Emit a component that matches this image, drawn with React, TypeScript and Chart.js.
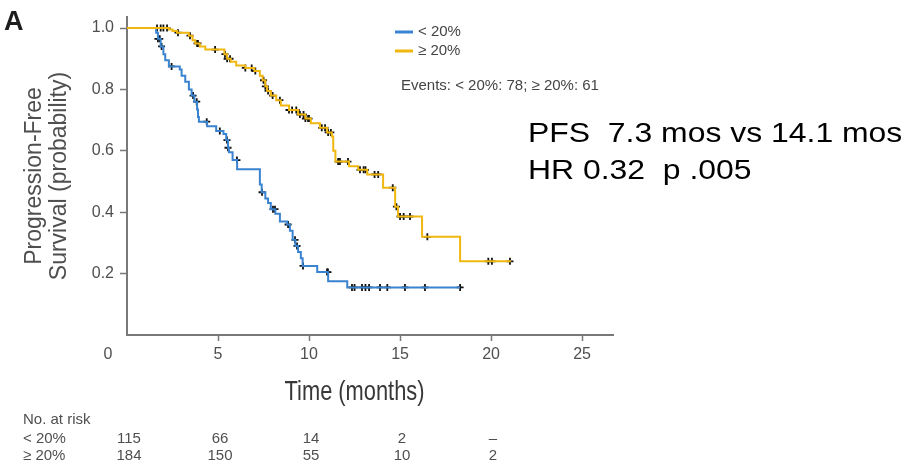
import { useEffect, useRef } from 'react';
import { Chart, registerables } from 'chart.js';

Chart.register(...registerables);

// ---- data ----
const groupLabels = ['< 20%', '≥ 20%'];

// Kaplan–Meier steps: time (months) at which survival drops to the value
const blueTimes = [0, 1.6, 1.7, 1.85, 2.0, 2.1, 2.3, 2.9, 3.0, 3.2, 3.4, 3.55, 3.7, 3.85, 3.9, 3.95, 4.4, 4.9, 5.3, 5.45, 5.55, 5.6, 5.8, 6.05, 7.3, 7.4, 7.6, 7.75, 7.9, 8.15, 8.4, 8.8, 8.95, 9.1, 9.25, 9.4, 9.55, 9.65, 10.45, 11.05, 12.1, 18.3];
const blueSurv = [1.0, 0.985, 0.965, 0.94, 0.915, 0.895, 0.875, 0.865, 0.845, 0.825, 0.8, 0.78, 0.76, 0.735, 0.71, 0.695, 0.68, 0.665, 0.655, 0.635, 0.61, 0.595, 0.57, 0.54, 0.49, 0.465, 0.445, 0.43, 0.41, 0.395, 0.37, 0.36, 0.34, 0.31, 0.29, 0.27, 0.25, 0.225, 0.205, 0.175, 0.155, 0.155];
const blueCensorTimes = [1.7, 1.8, 1.9, 2.45, 3.63, 3.83, 4.38, 5.1, 5.49, 5.55, 6.04, 7.42, 8.02, 8.13, 8.85, 9.23, 9.34, 9.67, 10.99, 11.04, 12.36, 12.5, 12.91, 13.1, 13.3, 13.9, 14.3, 15.27, 16.37, 18.3];

const yellowTimes = [0, 2.3, 2.5, 2.75, 3.4, 3.6, 3.75, 4.0, 4.3, 5.35, 5.5, 5.7, 6.0, 6.5, 7.0, 7.3, 7.45, 7.6, 7.7, 7.9, 8.2, 8.45, 8.9, 9.4, 9.8, 10.1, 10.6, 11.0, 11.25, 11.33, 11.45, 12.2, 12.7, 13.2, 14.07, 14.73, 14.89, 16.21, 18.3, 21.1];
const yellowSurv = [1.0, 0.995, 0.99, 0.985, 0.975, 0.96, 0.95, 0.94, 0.93, 0.915, 0.9, 0.89, 0.878, 0.87, 0.86, 0.845, 0.83, 0.81, 0.795, 0.78, 0.765, 0.748, 0.733, 0.718, 0.705, 0.69, 0.675, 0.66, 0.647, 0.6, 0.565, 0.55, 0.538, 0.523, 0.48, 0.418, 0.386, 0.32, 0.24, 0.24];
const yellowCensorTimes = [1.65, 1.85, 2.0, 2.2, 2.8, 3.46, 3.85, 3.9, 4.84, 5.38, 5.5, 5.66, 6.5, 6.85, 7.05, 7.5, 7.6, 7.75, 8.0, 8.4, 8.9, 9.07, 9.3, 9.5, 9.7, 9.8, 9.95, 10.0, 10.7, 10.88, 11.05, 11.2, 11.6, 11.7, 12.14, 12.8, 13.0, 13.1, 13.6, 13.8, 14.6, 14.8, 15.0, 15.2, 15.55, 16.5, 19.85, 20.05, 21.04];

const xTickValues = [5, 10, 15, 20, 25];
const yTickValues = [0.2, 0.4, 0.6, 0.8, 1.0];

const riskTimes = [0, 5, 10, 15, 20];
const riskLow = ['115', '66', '14', '2', '–'];
const riskHigh = ['184', '150', '55', '10', '2'];

const eventsText = 'Events: < 20%: 78; ≥ 20%: 61';
const statLines = ['PFS  7.3 mos vs 14.1 mos', 'HR 0.32  p .005'];

const BLUE = '#3a83d0';
const YELLOW = '#efb70f';
const AXIS = '#787878';
const TEXT = '#4f4f4f';
const FONT = 'Arial, "Liberation Sans", sans-serif';

function survAt(times: number[], surv: number[], t: number) {
  let v = surv[0];
  for (let i = 0; i < times.length; i++) if (times[i] <= t) v = surv[i];
  return v;
}

const annotations = {
  id: 'annotations',
  afterDraw(chart: any) {
    const ctx: CanvasRenderingContext2D = chart.ctx;
    const xs = chart.scales.x;
    const txt = (s: string, x: number, y: number, font: string, color: string, align: CanvasTextAlign = 'left', sx = 1, sy = 1) => {
      ctx.save();
      ctx.translate(x, y);
      ctx.scale(sx, sy);
      ctx.font = font;
      ctx.fillStyle = color;
      ctx.textAlign = align;
      ctx.textBaseline = 'middle';
      ctx.fillText(s, 0, 0);
      ctx.restore();
    };
    // panel letter
    txt('A', 4, 23, `bold 27px ${FONT}`, '#1e1e1e', 'left');
    // legend
    const leg = [
      { label: groupLabels[0], color: BLUE, y: 32 },
      { label: groupLabels[1], color: YELLOW, y: 51 },
    ];
    leg.forEach((l) => {
      ctx.save();
      ctx.strokeStyle = l.color;
      ctx.lineWidth = 3;
      ctx.beginPath();
      ctx.moveTo(395, l.y);
      ctx.lineTo(413, l.y);
      ctx.stroke();
      ctx.restore();
      txt(l.label, 418, l.y, `15px ${FONT}`, '#444');
    });
    txt(eventsText, 401, 86, `15px ${FONT}`, '#444');
    // stats
    txt(statLines[0], 528, 134, `28px ${FONT}`, '#000', 'left', 1.14, 1);
    txt(statLines[1], 528, 171, `28px ${FONT}`, '#000', 'left', 1.14, 1);
    // origin label
    txt('0', 108, 355, `16px ${FONT}`, TEXT, 'center');
    // x title
    const cx = (xs.getPixelForValue(0) + xs.getPixelForValue(25)) / 2;
    txt('Time (months)', cx, 392, `28px ${FONT}`, '#383838', 'center', 0.78, 1);
    // number at risk
    txt('No. at risk', 23, 420, `15px ${FONT}`, TEXT);
    txt(groupLabels[0], 23, 439, `15px ${FONT}`, TEXT);
    txt(groupLabels[1], 23, 456, `15px ${FONT}`, TEXT);
    riskTimes.forEach((t, i) => {
      const px = xs.getPixelForValue(t) + 2;
      txt(riskLow[i], px, 439, `15px ${FONT}`, TEXT, 'center');
      txt(riskHigh[i], px, 456, `15px ${FONT}`, TEXT, 'center');
    });
  },
};

export default function App() {
  const ref = useRef<HTMLCanvasElement>(null);
  useEffect(() => {
    if (!ref.current) return;
    const blueLine = blueTimes.map((t, i) => ({ x: t, y: blueSurv[i] }));
    const yellowLine = yellowTimes.map((t, i) => ({ x: t, y: yellowSurv[i] }));
    const blueCens = blueCensorTimes.map((t) => ({ x: t, y: survAt(blueTimes, blueSurv, t) }));
    const yellowCens = yellowCensorTimes.map((t) => ({ x: t, y: survAt(yellowTimes, yellowSurv, t) }));
    const chart = new Chart(ref.current, {
      type: 'line',
      data: {
        datasets: [
          { label: groupLabels[1], data: yellowLine, borderColor: YELLOW, borderWidth: 2, stepped: 'before', pointRadius: 0, fill: false },
          { label: groupLabels[0], data: blueLine, borderColor: BLUE, borderWidth: 2, stepped: 'before', pointRadius: 0, fill: false },
          { type: 'scatter', label: 'c1', data: yellowCens, pointStyle: 'cross', pointRadius: 3.5, borderColor: '#111', borderWidth: 1.8, showLine: false } as any,
          { type: 'scatter', label: 'c0', data: blueCens, pointStyle: 'cross', pointRadius: 3.5, borderColor: '#111', borderWidth: 1.8, showLine: false } as any,
        ],
      },
      options: {
        responsive: false,
        animation: false,
        devicePixelRatio: 1,
        layout: { padding: { top: 17, right: 295, left: 0, bottom: 0 } },
        plugins: { legend: { display: false }, tooltip: { enabled: false }, title: { display: false } },
        scales: {
          x: {
            type: 'linear',
            min: 0,
            max: 26.7,
            afterBuildTicks: (s: any) => { s.ticks = xTickValues.map((v) => ({ value: v })); },
            afterFit: (s: any) => { s.height = 130; },
            grid: { drawOnChartArea: false, drawTicks: true, tickLength: 6, tickColor: AXIS, tickWidth: 1.5 },
            border: { display: true, color: AXIS, width: 2 },
            ticks: { font: { size: 16, family: FONT }, color: TEXT, padding: 4, maxRotation: 0, autoSkip: false },
          },
          y: {
            type: 'linear',
            min: 0,
            max: 1.036,
            afterBuildTicks: (s: any) => { s.ticks = yTickValues.map((v) => ({ value: v })); },
            afterFit: (s: any) => { s.width = 127; },
            grid: { drawOnChartArea: false, drawTicks: true, tickLength: 7, tickColor: AXIS, tickWidth: 1.5 },
            border: { display: true, color: AXIS, width: 2 },
            ticks: { font: { size: 16, family: FONT }, color: TEXT, padding: 6, callback: (v: any) => Number(v).toFixed(1) },
            title: {
              display: true,
              text: ['Progression-Free', 'Survival (probability)'],
              font: { size: 23, family: FONT, lineHeight: 1.09 },
              color: TEXT,
              padding: { top: 22.5 },
            },
          },
        },
      },
      plugins: [annotations],
    } as any);
    return () => chart.destroy();
  }, []);
  return (
    <div style={{ position: 'absolute', left: 0, top: 0, width: 908, height: 465, background: '#fff' }}>
      <canvas ref={ref} width={908} height={465} style={{ display: 'block', width: 908, height: 465 }} />
    </div>
  );
}
